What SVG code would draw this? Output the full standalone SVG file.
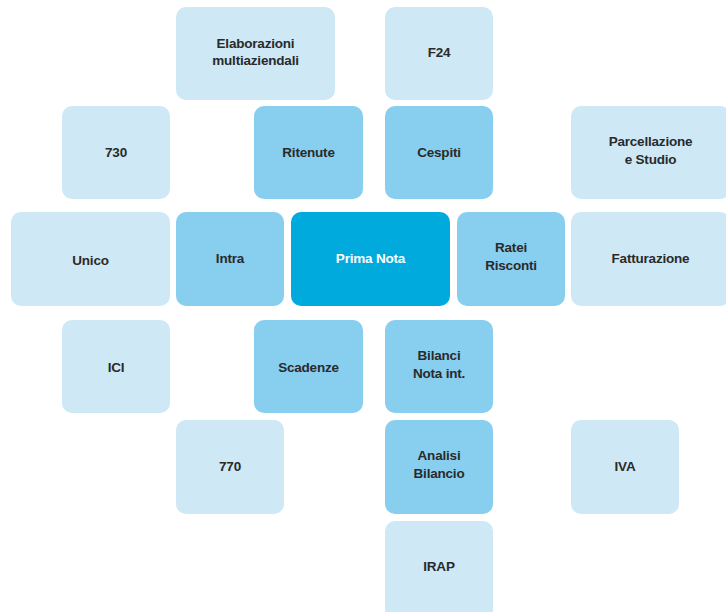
<svg xmlns="http://www.w3.org/2000/svg" width="726" height="612" viewBox="0 0 726 612">
<style>
rect{rx:10px;ry:10px}
.l{fill:#cee8f6}
.m{fill:#88ceee}
.d{fill:#00aadc}
text{font-family:"Liberation Sans",Arial,sans-serif;font-weight:bold;font-size:13.5px;fill:#2a2a2a;text-anchor:middle;letter-spacing:-0.2px}
.w{fill:#ffffff}
</style>
<rect width="726" height="612" fill="#ffffff" rx="0" ry="0" style="rx:0;ry:0"/>
<g id="elaborazioni"><rect class="l" x="176" y="7" width="159" height="93"/><text x="255.5" y="48">Elaborazioni</text><text x="255.5" y="65">multiaziendali</text></g>
<g id="f24"><rect class="l" x="385" y="7" width="108" height="93"/><text x="439" y="57">F24</text></g>
<g id="n730"><rect class="l" x="62" y="106" width="108" height="93"/><text x="116" y="157">730</text></g>
<g id="ritenute"><rect class="m" x="254" y="106" width="109" height="93"/><text x="308.5" y="157">Ritenute</text></g>
<g id="cespiti"><rect class="m" x="385" y="106" width="108" height="93"/><text x="439" y="157">Cespiti</text></g>
<g id="parcellazione"><rect class="l" x="571" y="106" width="159" height="93"/><text x="650.5" y="146">Parcellazione</text><text x="650.5" y="164">e Studio</text></g>
<g id="unico"><rect class="l" x="11" y="212" width="159" height="94"/><text x="90.5" y="265">Unico</text></g>
<g id="intra"><rect class="m" x="176" y="212" width="108" height="94"/><text x="230" y="263">Intra</text></g>
<g id="primanota"><rect class="d" x="291" y="212" width="159" height="94"/><text class="w" x="370.5" y="263">Prima Nota</text></g>
<g id="ratei"><rect class="m" x="457" y="212" width="108" height="94"/><text x="511" y="252">Ratei</text><text x="511" y="270">Risconti</text></g>
<g id="fatturazione"><rect class="l" x="571" y="212" width="159" height="94"/><text x="650.5" y="263">Fatturazione</text></g>
<g id="ici"><rect class="l" x="62" y="320" width="108" height="93"/><text x="116" y="372">ICI</text></g>
<g id="scadenze"><rect class="m" x="254" y="320" width="109" height="93"/><text x="308.5" y="372">Scadenze</text></g>
<g id="bilanci"><rect class="m" x="385" y="320" width="108" height="93"/><text x="439" y="360">Bilanci</text><text x="439" y="378">Nota int.</text></g>
<g id="n770"><rect class="l" x="176" y="420" width="108" height="94"/><text x="230" y="471">770</text></g>
<g id="analisi"><rect class="m" x="385" y="420" width="108" height="94"/><text x="439" y="460">Analisi</text><text x="439" y="478">Bilancio</text></g>
<g id="iva"><rect class="l" x="571" y="420" width="108" height="94"/><text x="625" y="471">IVA</text></g>
<g id="irap"><rect class="l" x="385" y="521" width="108" height="100"/><text x="439" y="571">IRAP</text></g>
<g id="connectors"></g>
</svg>
